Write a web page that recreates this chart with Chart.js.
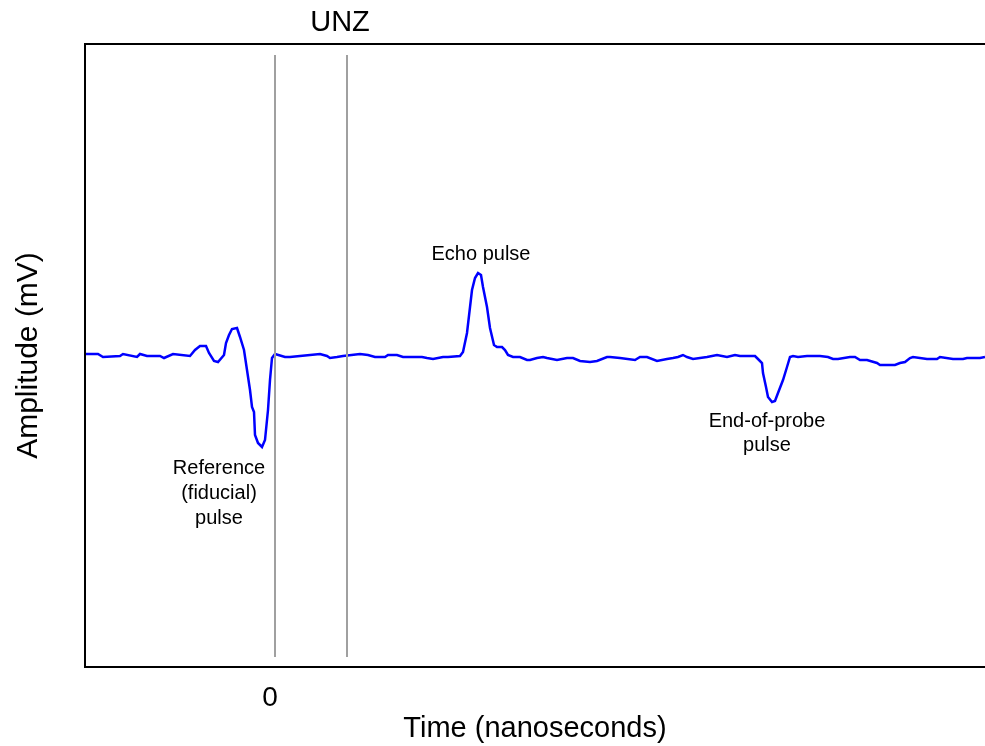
<!DOCTYPE html>
<html lang="en">

<head>
    <meta charset="UTF-8">
    <script src="https://cdn.jsdelivr.net/npm/chart.js"></script>
    <title>UNZ</title>
    <style>
        body { margin: 0; background: #fff; }
        .grafico { width: 985px; height: 746px; }
    </style>
</head>

<body>
    <div class="grafico">
        <canvas id="myChart"></canvas>
    </div>
</body>
<script>
    // tempo (ns) e amplitude (mV)
    const tempo = [
        -19.0, -17.7, -17.2, -15.5, -15.2, -13.8, -13.5, -12.8, -11.5, -11.1, -10.2, -8.5, -8.0, -7.5, -6.9, -6.6,
        -6.1, -5.7, -5.1, -4.9, -4.6, -4.3, -3.8, -3.5, -3.1, -2.8, -2.5, -2.3, -2.1, -2.0, -1.7, -1.3, -1.0, -0.7,
        -0.5, -0.3, 0.0, 1.0, 1.5, 2.5, 4.5, 5.2, 5.5, 6.2, 6.8, 8.5, 9.3, 10.0, 11.0, 11.3, 12.2, 12.8, 13.8, 14.7,
        15.2, 15.8, 16.8, 17.3, 18.5, 18.8, 19.2, 19.7, 20.0, 20.3, 20.6, 20.8, 21.2, 21.5, 21.9, 22.2, 22.7, 23.0,
        23.3, 23.8, 24.5, 25.2, 25.5, 26.2, 26.8, 27.2, 28.2, 29.2, 29.8, 30.5, 31.5, 32.2, 33.2, 33.5, 34.5, 36.0,
        36.5, 37.2, 38.2, 39.2, 39.8, 40.3, 40.8, 41.2, 41.8, 43.2, 44.2, 45.2, 46.0, 46.5, 48.0, 48.3, 48.7, 48.8,
        49.1, 49.3, 49.7, 50.0, 50.3, 50.8, 51.2, 51.5, 51.8, 52.3, 53.2, 54.5, 55.3, 55.8, 56.3, 57.5, 58.0, 58.5,
        59.2, 60.2, 60.5, 62.0, 62.5, 63.0, 63.5, 63.8, 65.2, 66.2, 66.5, 67.8, 68.8, 69.2, 70.2, 70.5, 71.0
    ];
    const amplitude = [
        0.1, 0.1, -0.2, -0.1, 0.1, -0.2, 0.1, -0.1, -0.1, -0.3, 0.1, -0.1, 0.5, 0.9, 0.9, 0.2,
        -0.6, -0.7, 0.0, 1.2, 2.0, 2.6, 2.7, 1.8, 0.5, -1.5, -3.5, -5.2, -5.7, -8.0, -8.8, -9.2, -8.5, -5.5,
        -2.5, -0.3, 0.1, -0.2, -0.2, -0.1, 0.1, -0.1, -0.3, -0.2, -0.1, 0.1, 0.0, -0.2, -0.2, 0.0, 0.0, -0.2, -0.2, -0.2,
        -0.3, -0.4, -0.2, -0.2, -0.1, 0.3, 2.2, 6.5, 7.7, 8.2, 8.0, 6.8, 4.8, 2.7, 1.0, 0.8, 0.8, 0.5,
        0.0, -0.2, -0.2, -0.5, -0.5, -0.3, -0.2, -0.3, -0.5, -0.3, -0.3, -0.6, -0.7, -0.6, -0.2, -0.2, -0.3, -0.5,
        -0.2, -0.2, -0.6, -0.4, -0.3, -0.2, 0.0, -0.2, -0.4, -0.2, 0.0, -0.2, 0.0, -0.1, -0.1, -0.4, -0.8, -1.8,
        -3.2, -4.2, -4.7, -4.6, -3.8, -2.5, -1.2, -0.2, -0.1, -0.2, -0.1, -0.1, -0.2, -0.4, -0.4, -0.2, -0.2, -0.5,
        -0.5, -0.8, -1.0, -1.0, -0.8, -0.7, -0.3, -0.2, -0.4, -0.4, -0.2, -0.4, -0.4, -0.3, -0.3, -0.3, -0.2
    ];
    // limites da zona UNZ
    const limitesUNZ = [0, 7.2];
    const rotulosX = [0];

    const pontos = tempo.map((t, i) => ({ x: t, y: amplitude[i] }));
    const linhaUNZ = (t) => ({
        data: [{ x: t, y: 30.0 }, { x: t, y: -30.2 }],
        borderColor: '#a0a0a0',
        borderWidth: 2,
        pointRadius: 0,
        fill: false
    });

    const fonte = 'Liberation Sans, Arial, sans-serif';

    // textos da figura e moldura
    const anotacoes = {
        id: 'anotacoes',
        afterDraw(chart) {
            const { ctx, chartArea, scales } = chart;
            const x = scales.x, y = scales.y;
            ctx.save();
            ctx.strokeStyle = '#000';
            ctx.lineWidth = 2;
            ctx.beginPath();
            ctx.moveTo(chartArea.right + 2, chartArea.top);
            ctx.lineTo(chartArea.left, chartArea.top);
            ctx.lineTo(chartArea.left, chartArea.bottom);
            ctx.lineTo(chartArea.right + 2, chartArea.bottom);
            ctx.stroke();

            ctx.fillStyle = '#000';
            ctx.textAlign = 'center';
            ctx.textBaseline = 'middle';
            ctx.font = '29px ' + fonte;
            ctx.fillText('UNZ', x.getPixelForValue(6.5), 23);

            ctx.font = '20px ' + fonte;
            ctx.fillText('Echo pulse', x.getPixelForValue(20.6), y.getPixelForValue(10.1));
            ctx.fillText('Reference', x.getPixelForValue(-5.6), y.getPixelForValue(-11.3));
            ctx.fillText('(fiducial)', x.getPixelForValue(-5.6), y.getPixelForValue(-13.8));
            ctx.fillText('pulse', x.getPixelForValue(-5.6), y.getPixelForValue(-16.3));
            ctx.fillText('End-of-probe', x.getPixelForValue(49.2), y.getPixelForValue(-6.6));
            ctx.fillText('pulse', x.getPixelForValue(49.2), y.getPixelForValue(-9.0));
            ctx.restore();
        }
    };

    var ctx = document.getElementById('myChart').getContext('2d');
    var myChart = new Chart(ctx, {
        type: 'line',
        data: {
            datasets: [
                linhaUNZ(limitesUNZ[0]),
                linhaUNZ(limitesUNZ[1]),
                {
                    data: pontos,
                    borderColor: '#0000ff',
                    borderWidth: 2.5,
                    pointRadius: 0,
                    tension: 0,
                    fill: false
                }
            ]
        },
        options: {
            responsive: true,
            maintainAspectRatio: false,
            animation: false,
            layout: { padding: { top: 44, right: 0, left: 0, bottom: 0 } },
            plugins: {
                legend: { display: false },
                tooltip: { enabled: false }
            },
            scales: {
                x: {
                    type: 'linear',
                    min: -19,
                    max: 71,
                    grid: { display: false, drawTicks: false },
                    border: { display: false },
                    afterBuildTicks: (s) => { s.ticks = rotulosX.map(v => ({ value: v })); },
                    afterFit: (s) => { s.height = 79; },
                    ticks: {
                        color: '#000',
                        padding: 14,
                        labelOffset: -5,
                        maxRotation: 0,
                        font: { family: fonte, size: 28 }
                    },
                    title: {
                        display: true,
                        text: 'Time (nanoseconds)',
                        color: '#000',
                        padding: { top: 0, bottom: 0 },
                        font: { family: fonte, size: 29 }
                    }
                },
                y: {
                    min: -31.2,
                    max: 31.1,
                    grid: { display: false, drawTicks: false },
                    border: { display: false },
                    ticks: { display: false },
                    afterFit: (s) => { s.width = 85; },
                    title: {
                        display: true,
                        text: 'Amplitude (mV)',
                        color: '#000',
                        padding: { top: 11, bottom: 0 },
                        font: { family: fonte, size: 30 }
                    }
                }
            }
        },
        plugins: [anotacoes]
    });
</script>

</html>
